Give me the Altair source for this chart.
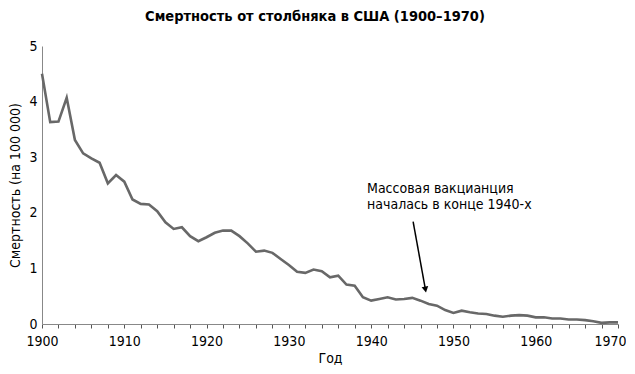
import altair as alt
import pandas as pd

years = list(range(1900, 1971))
values = [4.50, 3.63, 3.64, 4.07, 3.31, 3.07, 2.98, 2.90, 2.53, 2.68,
          2.56, 2.24, 2.16, 2.15, 2.03, 1.83, 1.71, 1.74, 1.58, 1.49,
          1.56, 1.64, 1.68, 1.68, 1.58, 1.45, 1.30, 1.32, 1.28, 1.17,
          1.06, 0.94, 0.92, 0.98, 0.95, 0.84, 0.87, 0.71, 0.69, 0.48,
          0.42, 0.45, 0.48, 0.44, 0.45, 0.47, 0.42, 0.36, 0.33, 0.25,
          0.20, 0.24, 0.21, 0.19, 0.18, 0.15, 0.13, 0.15, 0.16, 0.15,
          0.12, 0.12, 0.10, 0.10, 0.08, 0.08, 0.07, 0.05, 0.02, 0.03,
          0.03]
x_ticks = list(range(1900, 1971, 2))
y_ticks = [0, 1, 2, 3, 4, 5]

ann_lines = ["Массовая вакцианция", "началась в конце 1940-х"]
ann_x = [1939.5, 1939.5]
ann_y = [2.55, 2.27]

arrow_x, arrow_y = [1945.1], [1.84]
arrow_x2, arrow_y2 = [1946.6], [0.62]

FONT = "DejaVu Sans Condensed, Liberation Sans Narrow, sans-serif"

df = pd.DataFrame({"year": years, "value": values})
ann = pd.DataFrame({"text": ann_lines, "x": ann_x, "y": ann_y})
arr = pd.DataFrame({"x": arrow_x, "y": arrow_y, "x2": arrow_x2, "y2": arrow_y2})

xscale = alt.Scale(domain=[1900, 1970], nice=False, zero=False)
yscale = alt.Scale(domain=[0, 5], nice=False)

xaxis = alt.Axis(values=x_ticks, format="d",
                 labelExpr="datum.value % 10 == 0 ? datum.label : ''",
                 labelAlign={"condition": {"test": "datum.value == 1970", "value": "right"},
                             "value": "center"},
                 labelOffset={"condition": {"test": "datum.value == 1970", "value": 8},
                              "value": 0},
                 labelOverlap=False, grid=False, tickSize=4, tickColor="#555",
                 domainColor="#888", labelFontSize=14, labelFont=FONT,
                 labelColor="#000", titleFont=FONT, titleFontSize=14,
                 titleFontWeight="normal", titleColor="#000",
                 labelPadding=6, titlePadding=3, labelFlush=False)
yaxis = alt.Axis(values=y_ticks, grid=False, ticks=False, labelOverlap=False,
                 domainColor="#888", labelFontSize=14, labelFont=FONT,
                 labelColor="#000", titleFont=FONT, titleFontSize=14,
                 titleFontWeight="normal", titleColor="#000",
                 labelPadding=5, titlePadding=6)
XT = "Год"
YT = "Смертность (на 100 000)"

line = alt.Chart(df).mark_line(color="#686868", strokeWidth=2.6).encode(
    x=alt.X("year:Q", scale=xscale, title=XT, axis=xaxis),
    y=alt.Y("value:Q", scale=yscale, title=YT, axis=yaxis),
)

text = alt.Chart(ann).mark_text(align="left", baseline="top", font=FONT,
                                fontSize=14, color="#000").encode(
    x=alt.X("x:Q", scale=xscale, title=XT, axis=xaxis),
    y=alt.Y("y:Q", scale=yscale, title=YT, axis=yaxis), text="text:N")

rule = alt.Chart(arr).mark_rule(color="#000", strokeWidth=1.5).encode(
    x=alt.X("x:Q", scale=xscale, title=XT, axis=xaxis),
    y=alt.Y("y:Q", scale=yscale, title=YT, axis=yaxis),
    x2="x2:Q", y2="y2:Q")

head = alt.Chart(arr).mark_point(shape="triangle-up", filled=True, color="#000",
                                 size=45, angle=169, opacity=1).encode(
    x=alt.X("x2:Q", scale=xscale, title=XT, axis=xaxis),
    y=alt.Y("y2:Q", scale=yscale, title=YT, axis=yaxis))

chart = alt.layer(line, rule, head, text).properties(
    width=576, height=278,
    title=alt.TitleParams("Смертность от столбняка в США (1900–1970)",
                          font=FONT, fontSize=14.5, fontWeight="bold",
                          anchor="middle", dx=-15, offset=15, color="#000"),
    autosize=alt.AutoSizeParams(type="none"),
    padding={"left": 34, "top": 38, "right": 8, "bottom": 42},
).configure_view(stroke=None).configure_axis(labelOverlap=False)

chart.save("out.html", embed_options={"renderer": "svg", "actions": False})
